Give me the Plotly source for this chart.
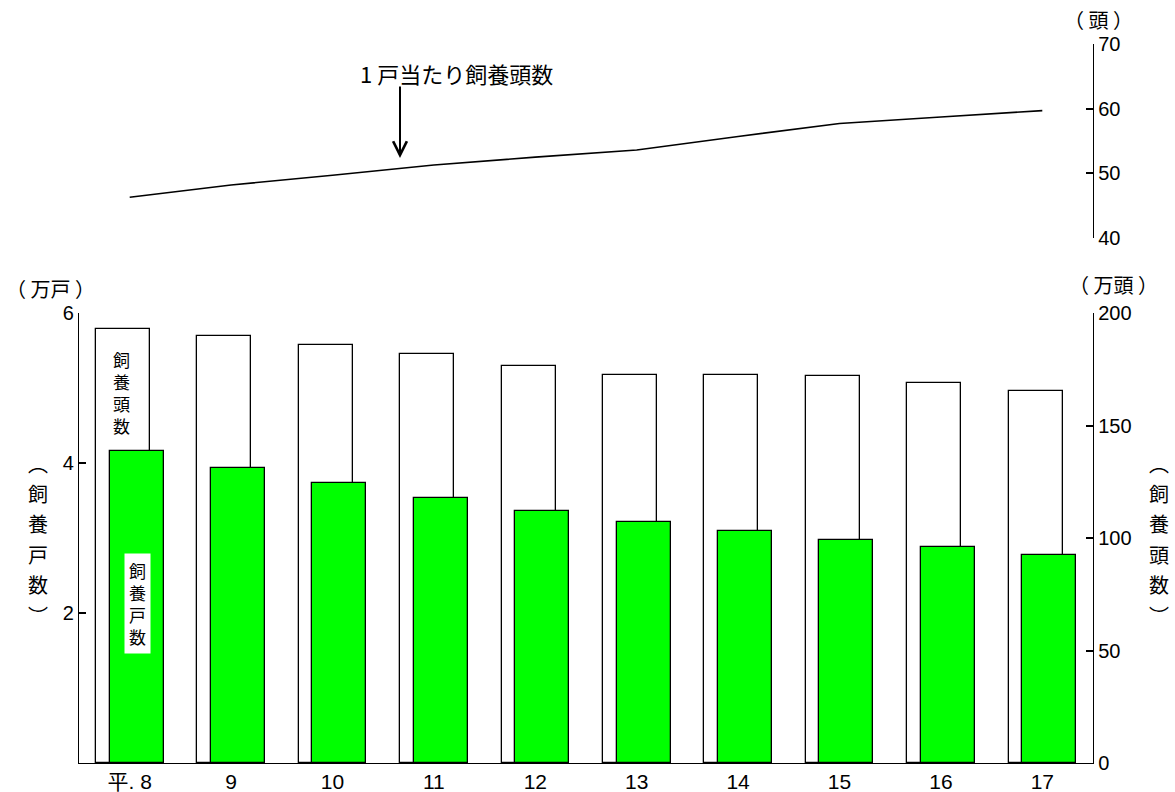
import plotly.graph_objects as go

# 年次（平成）
years = ["平. 8", "9", "10", "11", "12", "13", "14", "15", "16", "17"]
# 飼養戸数（万戸）
farms = [4.16, 3.94, 3.74, 3.54, 3.36, 3.22, 3.10, 2.98, 2.88, 2.77]
# 飼養頭数（万頭）
head = [192.7, 189.9, 186.0, 181.6, 176.4, 172.6, 172.6, 171.9, 169.0, 165.5]
# 1戸当たり飼養頭数（頭）
per_farm = [46.3, 48.2, 49.7, 51.3, 52.5, 53.6, 55.7, 57.7, 58.7, 59.7]

W, H = 1175, 792
L, R, T, B = 79, 1093, 44, 763


def px(x):
    return (x - L) / (R - L)


def py(y):
    return (B - y) / (B - T)


NUM_FONT = "Liberation Sans, Arial, Noto Sans CJK JP, sans-serif"
JP_FONT = "Noto Sans CJK JP, sans-serif"

fig = go.Figure()

# 飼養頭数（白棒・右軸）
fig.add_trace(go.Bar(
    x=years, y=head, xaxis="x", yaxis="y2",
    width=0.532, offset=-0.332,
    marker=dict(color="white", line=dict(color="black", width=1.3)),
    showlegend=False, hoverinfo="skip",
))
# 飼養戸数（緑棒・左軸）
fig.add_trace(go.Bar(
    x=years, y=farms, xaxis="x", yaxis="y3",
    width=0.532, offset=-0.198,
    marker=dict(color="#00ff00", line=dict(color="black", width=1.3)),
    showlegend=False, hoverinfo="skip",
))
# 1戸当たり飼養頭数（折れ線・上段）
fig.add_trace(go.Scatter(
    x=years, y=per_farm, xaxis="x", yaxis="y",
    mode="lines", line=dict(color="black", width=1.6),
    showlegend=False, hoverinfo="skip",
))

axis_common = dict(
    showline=True, linecolor="black", linewidth=1.4,
    ticks="inside", ticklen=7, tickwidth=1.5, tickcolor="black",
    showgrid=False, zeroline=False,
    tickfont=dict(family=NUM_FONT, size=20, color="black"),
)
# 右側の目盛ラベルは軸線から少し離す
RIGHT_PAD = "\u2004"

fig.update_layout(
    width=W, height=H,
    margin=dict(l=L, r=W - R, t=T, b=H - B, autoexpand=False),
    paper_bgcolor="white", plot_bgcolor="white",
    bargap=0, barmode="overlay",
    xaxis=dict(
        type="category", range=[-0.5, 9.5], anchor="y2",
        showline=True, linecolor="black", linewidth=1.4,
        ticks="", showgrid=False, zeroline=False,
        tickfont=dict(family=NUM_FONT, size=21, color="black"),
    ),
    yaxis=dict(
        domain=[py(238), 1.0], range=[40, 70], side="right", anchor="x",
        tickvals=[40, 50, 60, 70], tickprefix=RIGHT_PAD, **axis_common,
    ),
    yaxis2=dict(
        domain=[0, py(313)], range=[0, 200], side="right", anchor="x",
        tickvals=[0, 50, 100, 150, 200], tickprefix=RIGHT_PAD, **axis_common,
    ),
    yaxis3=dict(
        range=[0, 6], side="left", overlaying="y2", anchor="x",
        tickvals=[2, 4, 6], **axis_common,
    ),
)

annotations = []


def label(text, x, y, size=20, **kw):
    annotations.append(dict(
        text=text, x=px(x), y=py(y), xref="paper", yref="paper",
        showarrow=False, xanchor="center", yanchor="middle",
        font=dict(family=JP_FONT, size=size, color="black"), **kw,
    ))


def vertical(chars, x, y0, step, size=20):
    for i, ch in enumerate(chars):
        label(ch, x, y0 + i * step, size=size)


# 単位
label("（ 万戸 ）", 50, 288)
label("（ 万頭 ）", 1113, 284)
label("（ 頭 ）", 1098, 19)

# 縦書きの軸タイトル
vertical("︵飼養戸数︶", 38, 463, 30.4)
vertical("︵飼養頭数︶", 1159, 463, 30.4)

# 棒の中の系列名
label("飼<br>養<br>頭<br>数", 121, 392, size=17)
label("飼<br>養<br>戸<br>数", 137, 603, size=17,
      bgcolor="white", borderpad=4)

# 折れ線の説明と矢印
label("1 戸当たり飼養頭数", 456, 73, size=22)
annotations.append(dict(
    text="", x=px(400), y=py(158), xref="paper", yref="paper",
    ax=0, ay=-73, showarrow=True, arrowhead=5, arrowsize=1.35,
    arrowwidth=2, arrowcolor="black",
))

fig.update_layout(annotations=annotations)

fig.write_html("out.html")
